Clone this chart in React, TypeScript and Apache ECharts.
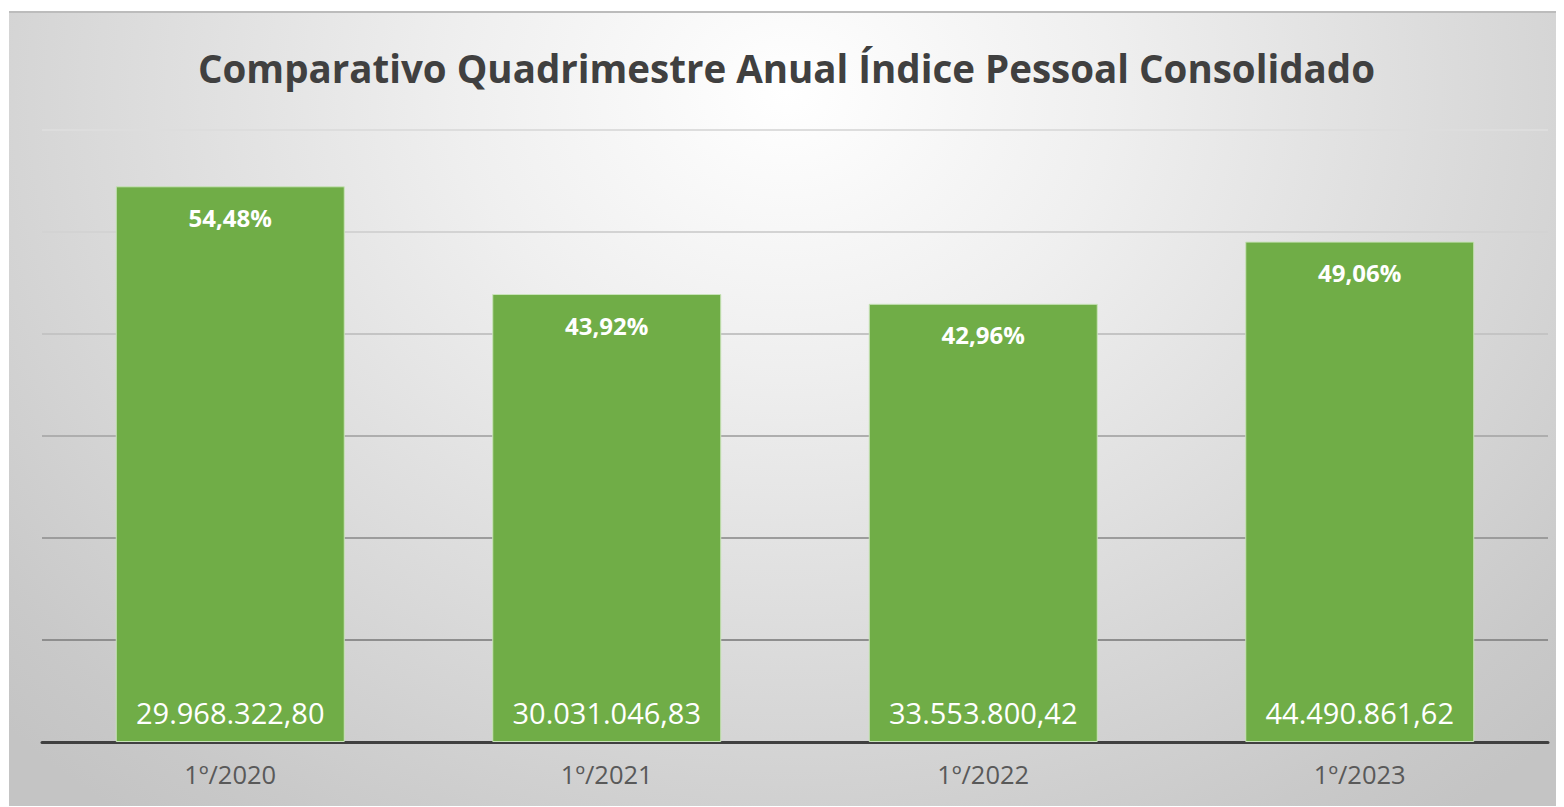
import React, { useEffect, useRef } from "react";
import * as echarts from "echarts";

const categories = ["1º/2020", "1º/2021", "1º/2022", "1º/2023"];
const percentValues = [54.48, 43.92, 42.96, 49.06];
const amountLabels = ["29.968.322,80", "30.031.046,83", "33.553.800,42", "44.490.861,62"];
const yTicks = [0, 10, 20, 30, 40, 50, 60];
const titleText = "Comparativo Quadrimestre Anual Índice Pessoal Consolidado";

const FONT = "'Open Sans', 'Noto Sans', sans-serif";

export default function App() {
  const ref = useRef<HTMLDivElement>(null);
  useEffect(() => {
    if (!ref.current) return;
    const chart = echarts.init(ref.current, null, { renderer: "svg" });
    const fmtPct = (v: number) => v.toFixed(2).replace(".", ",") + "%";
    chart.setOption({
      animation: false,
      backgroundColor: "transparent",
      title: {
        text: titleText,
        left: "center",
        top: 28,
        textStyle: {
          fontFamily: FONT,
          fontWeight: "bold",
          fontSize: 38.5,
          color: "#404040",
          lineHeight: 44,
        },
      },
      grid: { left: 33, right: 16, top: 117, bottom: 64 },
      xAxis: {
        type: "category",
        data: categories,
        axisLine: { show: true, lineStyle: { color: "#404040", width: 3 } },
        axisTick: { show: false },
        axisLabel: {
          fontFamily: FONT,
          fontSize: 25.5,
          color: "#595959",
          margin: 19,
        },
      },
      yAxis: {
        type: "value",
        min: yTicks[0],
        max: yTicks[yTicks.length - 1],
        interval: 10,
        axisLabel: { show: false },
        axisLine: { show: false },
        axisTick: { show: false },
        splitLine: {
          show: true,
          lineStyle: {
            width: 2,
            color: ["#404040", "#8e8e8e", "#9c9c9c", "#aeaeae", "#c4c4c4", "#d3d3d3", "#dddddd"],
          },
        },
      },
      series: [
        {
          type: "bar",
          data: percentValues,
          barWidth: 229,
          itemStyle: { color: "#70AD47", borderColor: "#c9e3b9", borderWidth: 1 },
          label: {
            show: true,
            position: "insideTop",
            distance: 19,
            fontFamily: FONT,
            fontWeight: "bold",
            fontSize: 24,
            color: "#ffffff",
            formatter: (p: any) => fmtPct(p.value),
          },
          z: 2,
        },
        {
          type: "bar",
          data: percentValues,
          barWidth: 229,
          barGap: "-100%",
          itemStyle: { color: "rgba(0,0,0,0)" },
          label: {
            show: true,
            position: "insideBottom",
            distance: 15,
            fontFamily: FONT,
            fontSize: 29,
            color: "#ffffff",
            formatter: (p: any) => amountLabels[p.dataIndex],
          },
          z: 3,
        },
      ],
    });
    return () => chart.dispose();
  }, []);
  return (
    <div
      style={{
        marginLeft: 1,
        marginTop: 3,
        width: 1555,
        height: 795,
        boxSizing: "border-box",
        borderTop: "2px solid #bcbcbc",
        background:
          "radial-gradient(ellipse 70% 115% at 50% 10%, #ffffff 0%, #efefef 30%, #dcdcdc 60%, #c9c9c9 90%, #c4c4c4 100%)",
      }}
    >
      <div ref={ref} style={{ width: 1555, height: 793 }} />
    </div>
  );
}
